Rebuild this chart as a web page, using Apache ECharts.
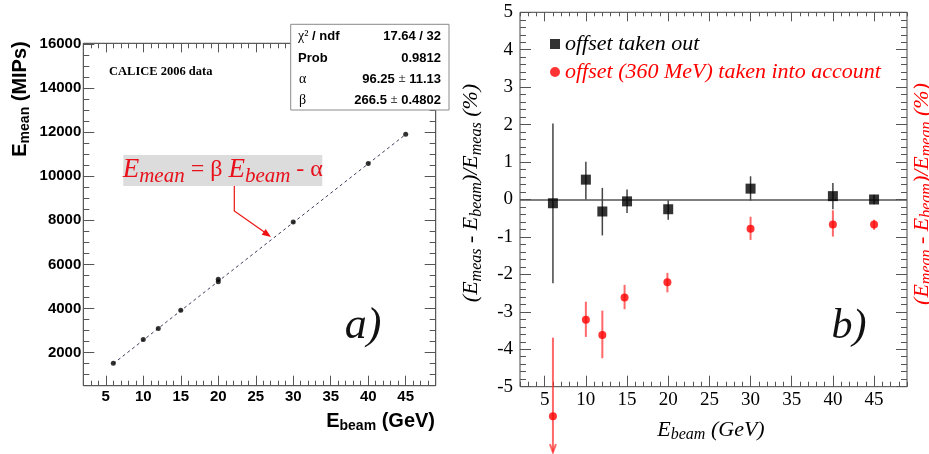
<!DOCTYPE html>
<html>
<head>
<meta charset="utf-8">
<script src="https://cdn.jsdelivr.net/npm/echarts@6/dist/echarts.min.js"></script>
<style>
html,body{margin:0;padding:0;background:#fff;}
#chart{width:929px;height:454px;}
</style>
</head>
<body>
<div id="chart"></div>
<script>
// ---------- Data ----------
// Panel a) : mean energy vs beam energy
const leftX = [6, 10, 12, 15, 20, 20, 30, 40, 45];
const leftY = [1520, 2590, 3100, 3920, 5220, 5330, 7930, 10580, 11910];
const fitX = [6, 45];
const fitY = [1500, 11900];
const leftXTicks = [5, 10, 15, 20, 25, 30, 35, 40, 45];
const leftYTicks = [2000, 4000, 6000, 8000, 10000, 12000, 14000, 16000];

// Panel b) : relative deviations (%)
const blackX  = [6, 10, 12, 15, 20, 30, 40, 45];
const blackY  = [-0.10, 0.53, -0.32, -0.05, -0.26, 0.29, 0.09, 0.00];
const blackLo = [-2.24, 0.00, -0.96, -0.36, -0.54, -0.03, -0.26, -0.13];
const blackHi = [2.03, 1.01, 0.31, 0.27, -0.03, 0.62, 0.44, 0.13];

const redX  = [6, 10, 12, 14.7, 19.9, 30, 40, 45];
const redY  = [-5.79, -3.21, -3.62, -2.62, -2.21, -0.78, -0.67, -0.67];
const redLo = [-6.75, -3.67, -4.24, -2.93, -2.48, -1.08, -0.99, -0.81];
const redHi = [-3.69, -2.73, -2.97, -2.28, -1.96, -0.46, -0.29, -0.54];

const rightXTicks = [5, 10, 15, 20, 25, 30, 35, 40, 45];
const rightYTicks = [-5, -4, -3, -2, -1, 0, 1, 2, 3, 4, 5];

const seriesNameBlack = 'offset taken out';
const seriesNameRed = 'offset (360 MeV) taken into account';

// ---------- Layout helpers ----------
const SANS = "'Liberation Sans', Arial, Helvetica, sans-serif";
const SERIF = "'Liberation Serif', 'Times New Roman', Times, serif";
const TICKC = '#555';
const plainNum = function (v) { return String(v); };

function axisPair(grid, pos, min, max, majors, minorInterval, majorLen, minorLen, label) {
  const base = {
    type: 'value', gridIndex: grid, position: pos, min: min, max: max,
    axisLine: { show: false, onZero: false },
    splitLine: { show: false },
    silent: true
  };
  const major = Object.assign({}, base, {
    axisTick: { show: true, inside: true, length: majorLen, customValues: majors, lineStyle: { color: TICKC, width: 1 } },
    axisLabel: label ? Object.assign({ customValues: majors, formatter: plainNum }, label) : { show: false }
  });
  const minor = Object.assign({}, base, {
    interval: minorInterval,
    axisTick: { show: true, inside: true, length: minorLen, lineStyle: { color: TICKC, width: 1 } },
    axisLabel: { show: false }
  });
  return [major, minor];
}

const leftXLabel = { show: true, margin: 4, color: '#000', fontFamily: SANS, fontWeight: 'bold', fontSize: 15 };
const leftYLabel = { show: true, margin: 2, color: '#000', fontFamily: SANS, fontWeight: 'bold', fontSize: 15 };
const rightXLabel = { show: true, margin: 4, color: '#000', fontFamily: SERIF, fontSize: 19 };
const rightYLabel = { show: true, margin: 7, color: '#000', fontFamily: SERIF, fontSize: 19 };

const xAxes = [].concat(
  axisPair(0, 'bottom', 2, 49, leftXTicks, 1, 10, 5, leftXLabel),   // 0,1
  axisPair(0, 'top', 2, 49, leftXTicks, 1, 9, 5, null),             // 2,3
  axisPair(1, 'bottom', 2, 49, rightXTicks, 1, 11, 5, rightXLabel), // 4,5
  axisPair(1, 'top', 2, 49, rightXTicks, 1, 9, 4, null)             // 6,7
);
const yAxes = [].concat(
  axisPair(0, 'left', 500, 16030, leftYTicks, 500, 11, 6, leftYLabel), // 0,1
  axisPair(0, 'right', 500, 16030, leftYTicks, 500, 11, 6, null),      // 2,3
  axisPair(1, 'left', -5, 5, rightYTicks, 0.2, 11, 6, rightYLabel),    // 4,5
  axisPair(1, 'right', -5, 5, rightYTicks, 0.2, 11, 6, null)           // 6,7
);

function errBars(xs, lo, hi, color, width, withArrow) {
  return {
    type: 'custom', xAxisIndex: 4, yAxisIndex: 4, clip: false, silent: true, z: 2,
    data: xs.map((x, i) => [x, lo[i], hi[i]]),
    renderItem: function (params, api) {
      const p1 = api.coord([api.value(0), api.value(1)]);
      const p2 = api.coord([api.value(0), api.value(2)]);
      const children = [{
        type: 'line',
        shape: { x1: p1[0], y1: p1[1], x2: p2[0], y2: p2[1] },
        style: { stroke: color, lineWidth: width }
      }];
      if (withArrow && api.value(1) < -5) {
        children.push({
          type: 'polyline',
          shape: { points: [[p1[0] - 3, p1[1] - 8], [p1[0], p1[1]], [p1[0] + 3, p1[1] - 8]] },
          style: { stroke: color, lineWidth: width, fill: null }
        });
      }
      return { type: 'group', children: children };
    }
  };
}

// rich text helper for subscripts
function richSub(mainStyle, subStyle, L, h) {
  return {
    m: Object.assign({ lineHeight: L }, mainStyle),
    s: Object.assign({ lineHeight: h, verticalAlign: 'bottom' }, subStyle)
  };
}

const option = {
  animation: false,
  backgroundColor: '#fff',
  grid: [
    { left: 83.3, top: 43.3, width: 352.4, height: 342.4, show: true, borderColor: '#333', borderWidth: 1, backgroundColor: 'transparent' },
    { left: 520, top: 12.3, width: 387, height: 374.4, show: true, borderColor: '#444', borderWidth: 1, backgroundColor: 'transparent' }
  ],
  xAxis: xAxes,
  yAxis: yAxes,
  legend: {
    left: 545, top: 27, orient: 'vertical', itemGap: 4,
    itemWidth: 10, itemHeight: 10, selectedMode: false,
    textStyle: { fontFamily: SERIF, fontStyle: 'italic', fontSize: 22, lineHeight: 24 },
    data: [
      { name: seriesNameBlack, icon: 'rect', textStyle: { color: '#000' } },
      { name: seriesNameRed, icon: 'circle', textStyle: { color: '#ff0000' } }
    ]
  },
  series: [
    // panel a
    {
      type: 'line', xAxisIndex: 0, yAxisIndex: 0, silent: true,
      data: fitX.map((x, i) => [x, fitY[i]]),
      symbol: 'none',
      lineStyle: { color: '#3d3d5c', width: 1, type: [3, 3] }, z: 2
    },
    {
      type: 'scatter', xAxisIndex: 0, yAxisIndex: 0, silent: true,
      data: leftX.map((x, i) => [x, leftY[i]]),
      symbol: 'circle', symbolSize: 5, itemStyle: { color: '#000' }, z: 3
    },
    // panel b
    errBars(blackX, blackLo, blackHi, '#444', 1.5, false),
    errBars(redX, redLo, redHi, 'rgba(255,40,40,0.7)', 2, true),
    {
      name: seriesNameBlack, type: 'scatter', xAxisIndex: 4, yAxisIndex: 4, silent: true,
      data: blackX.map((x, i) => [x, blackY[i]]),
      symbol: 'rect', symbolSize: 10, itemStyle: { color: '#000' }, z: 4,
      markLine: {
        silent: true, symbol: 'none', label: { show: false },
        lineStyle: { color: '#555', width: 1.5, type: 'solid' },
        data: [{ yAxis: 0 }], z: 1
      }
    },
    {
      name: seriesNameRed, type: 'scatter', xAxisIndex: 4, yAxisIndex: 4, silent: true, clip: false,
      data: redX.map((x, i) => [x, redY[i]]),
      symbol: 'circle', symbolSize: 8, itemStyle: { color: '#ff0000' }, z: 5
    }
  ],
  graphic: [
    // ---- panel a texts ----
    {
      type: 'text', x: 20.5, y: 99, rotation: Math.PI / 2, z: 100,
      style: {
        text: '{m|E}{s|mean}{m| (MIPs)}', align: 'center', verticalAlign: 'middle',
        rich: richSub({ fontFamily: SANS, fontWeight: 'bold', fontSize: 20, fill: '#000' },
                      { fontFamily: SANS, fontWeight: 'bold', fontSize: 14, fill: '#000' }, 24, 10)
      }
    },
    {
      type: 'text', x: 435, y: 421, z: 100,
      style: {
        text: '{m|E}{s|beam}{m| (GeV)}', align: 'right', verticalAlign: 'middle',
        rich: richSub({ fontFamily: SANS, fontWeight: 'bold', fontSize: 20, fill: '#000' },
                      { fontFamily: SANS, fontWeight: 'bold', fontSize: 14, fill: '#000' }, 24, 10)
      }
    },
    {
      type: 'text', x: 109, y: 72, z: 100,
      style: { text: 'CALICE 2006 data', font: "bold 12.5px " + SERIF, fill: '#000', align: 'left', verticalAlign: 'middle' }
    },
    // stats box
    {
      type: 'rect', z: 100,
      shape: { x: 290.7, y: 24.3, width: 158.3, height: 85.7 },
      style: { fill: '#fff', stroke: '#8a8a8a', lineWidth: 1 }
    },
    {
      type: 'text', x: 298, y: 36, z: 101,
      style: {
        text: '{g|χ²}{b| / ndf}', align: 'left', verticalAlign: 'middle',
        rich: { g: { fontFamily: SERIF, fontSize: 14, fill: '#000' }, b: { fontFamily: SANS, fontWeight: 'bold', fontSize: 13, fill: '#000' } }
      }
    },
    { type: 'text', x: 298, y: 58, z: 101, style: { text: 'Prob', font: "bold 13px " + SANS, fill: '#000', align: 'left', verticalAlign: 'middle' } },
    { type: 'text', x: 299, y: 79, z: 101, style: { text: 'α', font: "14px " + SERIF, fill: '#000', align: 'left', verticalAlign: 'middle' } },
    { type: 'text', x: 299, y: 100, z: 101, style: { text: 'β', font: "14px " + SERIF, fill: '#000', align: 'left', verticalAlign: 'middle' } },
    { type: 'text', x: 441, y: 36, z: 101, style: { text: '17.64 / 32', font: "bold 13px " + SANS, fill: '#000', align: 'right', verticalAlign: 'middle' } },
    { type: 'text', x: 441, y: 58, z: 101, style: { text: '0.9812', font: "bold 13px " + SANS, fill: '#000', align: 'right', verticalAlign: 'middle' } },
    {
      type: 'text', x: 441, y: 79, z: 101,
      style: {
        text: '{b|96.25 }{p|±}{b| 11.13}', align: 'right', verticalAlign: 'middle',
        rich: { b: { fontFamily: SANS, fontWeight: 'bold', fontSize: 13, fill: '#000' }, p: { fontFamily: SERIF, fontSize: 13, fill: '#000' } }
      }
    },
    {
      type: 'text', x: 441, y: 100, z: 101,
      style: {
        text: '{b|266.5 }{p|±}{b| 0.4802}', align: 'right', verticalAlign: 'middle',
        rich: { b: { fontFamily: SANS, fontWeight: 'bold', fontSize: 13, fill: '#000' }, p: { fontFamily: SERIF, fontSize: 13, fill: '#000' } }
      }
    },
    // formula box
    {
      type: 'rect', z: 100,
      shape: { x: 123.3, y: 155, width: 199, height: 31 },
      style: { fill: '#dcdcdc' }
    },
    {
      type: 'text', x: 222.8, y: 170, z: 101,
      style: {
        text: '{E|E}{m|mean}{n| = β }{E|E}{s|beam}{n| - α}', align: 'center', verticalAlign: 'middle',
        rich: {
          E: { fontFamily: SERIF, fontStyle: 'italic', fontSize: 27, fill: '#e8101a', lineHeight: 34 },
          m: { fontFamily: SERIF, fontStyle: 'italic', fontSize: 21, fill: '#e8101a', lineHeight: 29, verticalAlign: 'bottom' },
          n: { fontFamily: SERIF, fontSize: 24, fill: '#e8101a', lineHeight: 34 },
          s: { fontFamily: SERIF, fontStyle: 'italic', fontSize: 21, fill: '#e8101a', lineHeight: 15, verticalAlign: 'bottom' }
        }
      }
    },
    {
      type: 'polyline', z: 101,
      shape: { points: [[234.3, 186], [234.3, 211], [265, 232.5]] },
      style: { stroke: '#ee1111', lineWidth: 1.2, fill: null }
    },
    {
      type: 'polygon', z: 101,
      shape: { points: [[271, 237], [265.7, 228.9], [261.7, 234.7]] },
      style: { fill: '#ee1111' }
    },
    {
      type: 'text', x: 363, y: 326, z: 100,
      style: { text: 'a)', font: "italic 44px " + SERIF, fill: '#111', align: 'center', verticalAlign: 'middle' }
    },
    // ---- panel b texts ----
    {
      type: 'text', x: 471.5, y: 193, rotation: Math.PI / 2, z: 100,
      style: {
        text: '{m|(E}{s|meas}{m| - E}{s|beam}{m|)/E}{s|meas}{m| (%)}', align: 'center', verticalAlign: 'middle',
        rich: richSub({ fontFamily: SERIF, fontStyle: 'italic', fontSize: 22, fill: '#000' },
                      { fontFamily: SERIF, fontStyle: 'italic', fontSize: 16, fill: '#000' }, 26, 12)
      }
    },
    {
      type: 'text', x: 922, y: 194, rotation: Math.PI / 2, z: 100,
      style: {
        text: '{m|(E}{s|mean}{m| - E}{s|beam}{m|)/E}{s|mean}{m| (%)}', align: 'center', verticalAlign: 'middle',
        rich: richSub({ fontFamily: SERIF, fontStyle: 'italic', fontSize: 22, fill: '#ff0000' },
                      { fontFamily: SERIF, fontStyle: 'italic', fontSize: 16, fill: '#ff0000' }, 26, 12)
      }
    },
    {
      type: 'text', x: 711, y: 430, z: 100,
      style: {
        text: '{m|E}{s|beam}{m| (GeV)}', align: 'center', verticalAlign: 'middle',
        rich: richSub({ fontFamily: SERIF, fontStyle: 'italic', fontSize: 22, fill: '#000' },
                      { fontFamily: SERIF, fontStyle: 'italic', fontSize: 16, fill: '#000' }, 26, 12)
      }
    },
    {
      type: 'text', x: 849, y: 327, z: 100,
      style: { text: 'b)', font: "italic 42px " + SERIF, fill: '#111', align: 'center', verticalAlign: 'middle' }
    }
  ]
};

const chart = echarts.init(document.getElementById('chart'), null, { renderer: 'canvas' });
chart.setOption(option);
</script>
</body>
</html>
